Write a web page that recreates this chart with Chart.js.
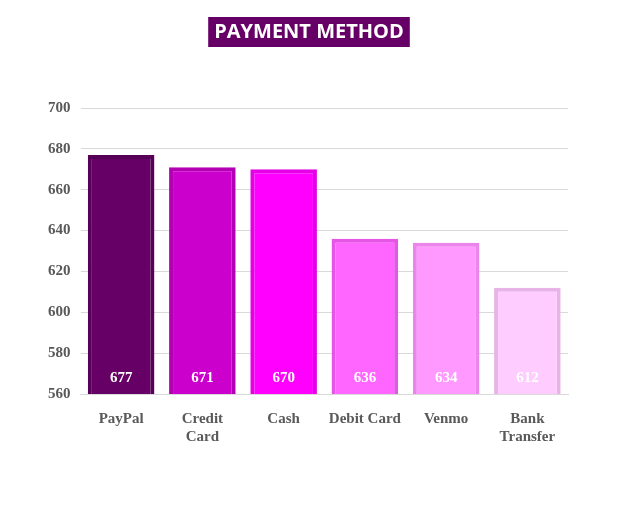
<!DOCTYPE html>
<html>
<head>
<meta charset="utf-8">
<script src="https://cdn.jsdelivr.net/npm/chart.js@4.4.0/dist/chart.umd.min.js"></script>
<style>
  html, body { margin: 0; padding: 0; background: #fff; }
  #wrap { width: 620px; height: 532px; position: relative; }
</style>
</head>
<body>
<div id="wrap"><canvas id="chart" width="620" height="532"></canvas></div>
<script>
const categories = ['PayPal', ['Credit', 'Card'], 'Cash', 'Debit Card', 'Venmo', ['Bank', 'Transfer']];
const values = [677, 671, 670, 636, 634, 612];
const fillColors = ['#660066', '#cc00cc', '#ff00ff', '#ff66ff', '#ff99ff', '#ffccff'];
const edgeColors = ['#570057', '#b300b3', '#e600e6', '#e655e6', '#eb85eb', '#e8b4e8'];

// title box + value labels
const decor = {
  id: 'decor',
  afterDraw(chart) {
    const ctx = chart.ctx;
    ctx.save();
    ctx.font = 'bold 20px "Open Sans", sans-serif';
    const t = 'PAYMENT METHOD';
    const w = ctx.measureText(t).width + 12;
    ctx.fillStyle = '#660066';
    ctx.fillRect(309 - w / 2, 17, w, 30);
    ctx.fillStyle = '#fff';
    ctx.textAlign = 'center';
    ctx.textBaseline = 'middle';
    ctx.fillText(t, 309, 32);

    ctx.font = 'bold 15px "Liberation Serif", serif';
    const meta = chart.getDatasetMeta(0);
    meta.data.forEach((bar, i) => {
      ctx.fillText(values[i], bar.x, chart.scales.y.bottom - 16);
    });
    ctx.restore();
  }
};

new Chart(document.getElementById('chart'), {
  type: 'bar',
  data: {
    labels: categories,
    datasets: [{
      data: values,
      backgroundColor: fillColors,
      borderColor: edgeColors,
      borderWidth: 4,
      borderSkipped: false,
      categoryPercentage: 1,
      barPercentage: 0.82
    }]
  },
  options: {
    responsive: false,
    animation: false,
    layout: { padding: { top: 108, right: 52, left: 38, bottom: 78 } },
    plugins: { legend: { display: false }, tooltip: { enabled: false } },
    scales: {
      y: {
        min: 560, max: 700,
        ticks: { stepSize: 20, color: '#595959', font: { family: 'Liberation Serif', weight: 'bold', size: 15 }, padding: 10 },
        grid: { color: '#d9d9d9', drawTicks: false },
        border: { display: false }
      },
      x: {
        ticks: { color: '#595959', font: { family: 'Liberation Serif', weight: 'bold', size: 15 }, padding: 8 },
        grid: { display: false },
        border: { color: '#d9d9d9' }
      }
    }
  },
  plugins: [decor]
});
</script>
</body>
</html>
